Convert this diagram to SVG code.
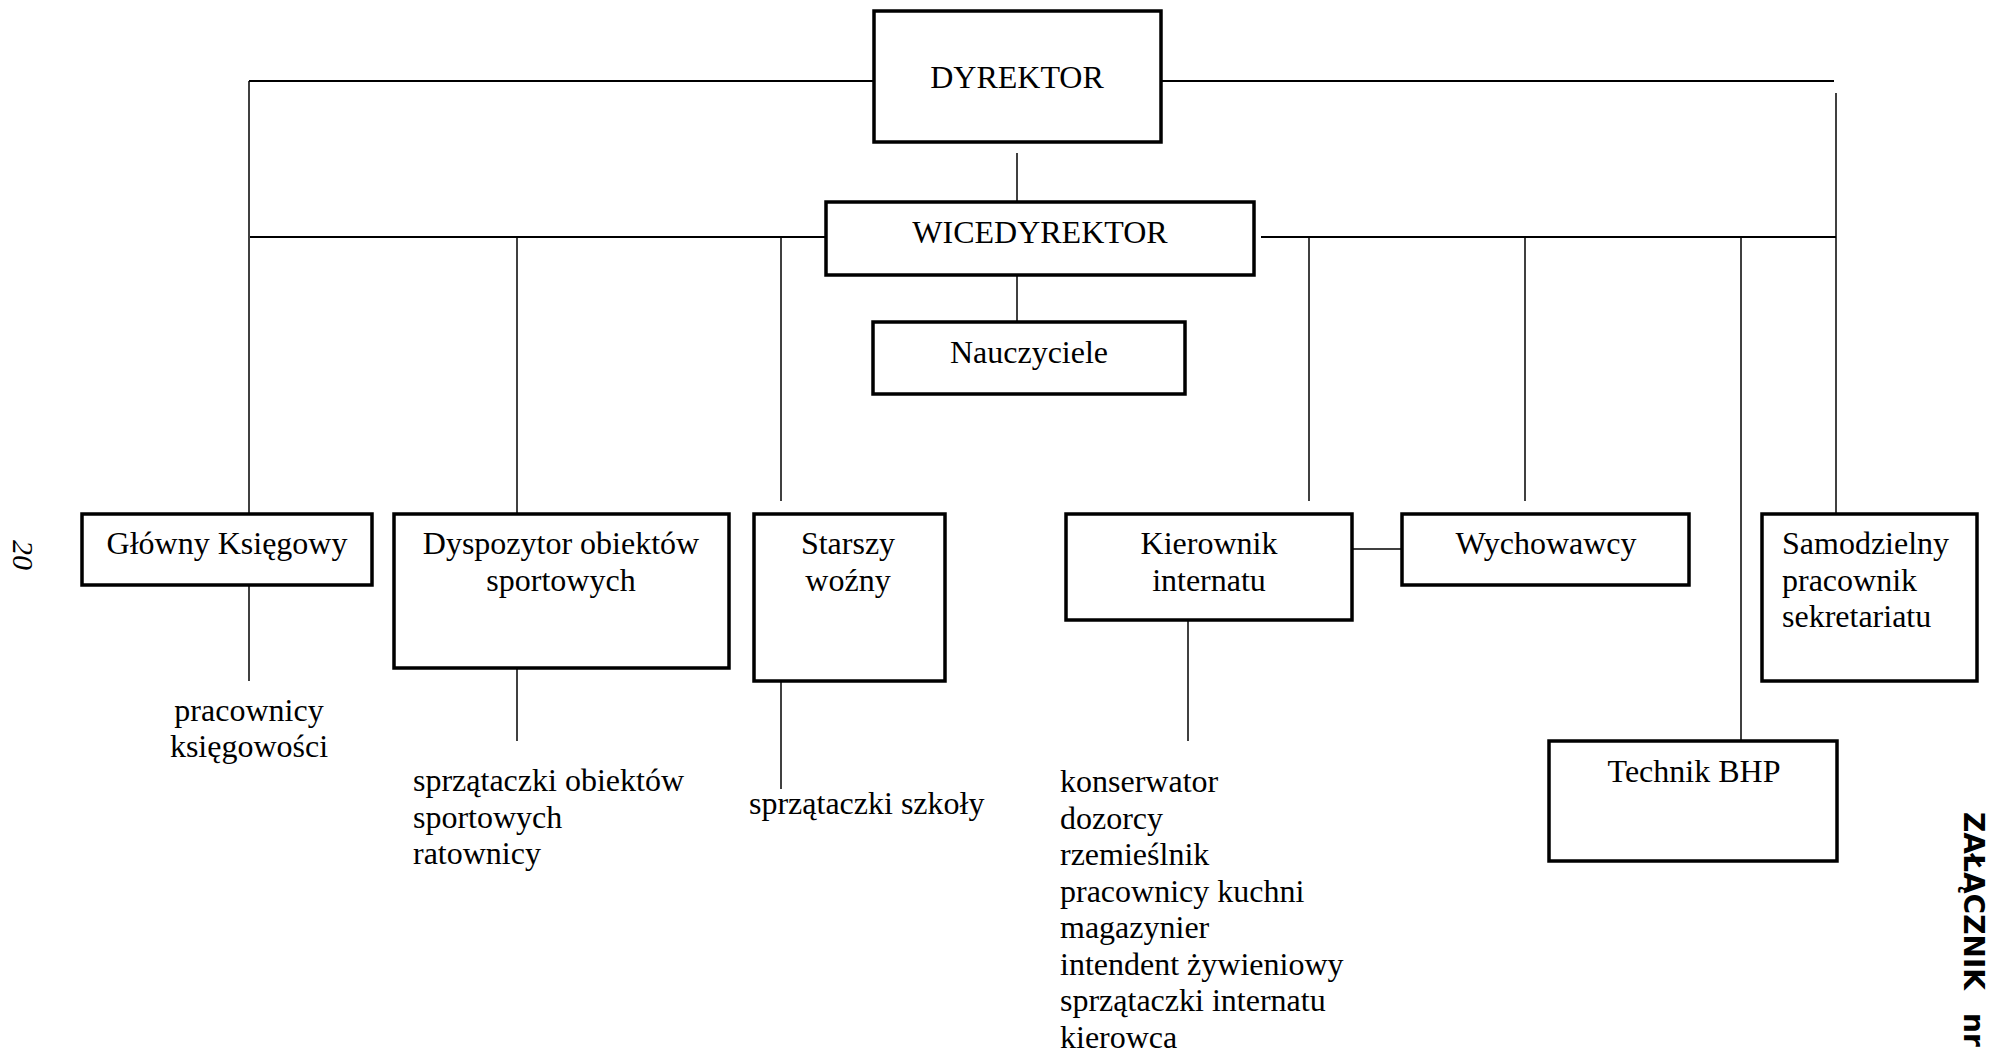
<svg xmlns="http://www.w3.org/2000/svg" width="1995" height="1058" viewBox="0 0 1995 1058">
<style>
.box{fill:#fff;stroke:#000;stroke-width:3.5}
.t{font-family:"Liberation Serif","Times New Roman",serif;font-size:32px;fill:#000}
.c{text-anchor:middle}
.ln{stroke:#000;stroke-width:1.5;fill:none}
.hl{stroke:#000;stroke-width:2.2;fill:none}
</style>
<rect width="1995" height="1058" fill="#fff"/>
<g id="connectors">
<line class="hl" x1="249" y1="81" x2="874" y2="81"/>
<line class="hl" x1="1160" y1="81" x2="1834" y2="81"/>
<line class="ln" x1="249" y1="81" x2="249" y2="513"/>
<line class="ln" x1="1836" y1="93" x2="1836" y2="526"/>
<line class="hl" x1="250" y1="237" x2="829" y2="237"/>
<line class="hl" x1="1261" y1="237" x2="1836" y2="237"/>
<line class="ln" x1="517" y1="237" x2="517" y2="526"/>
<line class="ln" x1="781" y1="237" x2="781" y2="501"/>
<line class="ln" x1="1309" y1="237" x2="1309" y2="501"/>
<line class="ln" x1="1525" y1="237" x2="1525" y2="501"/>
<line class="ln" x1="1741" y1="237" x2="1741" y2="740"/>
<line class="ln" x1="1017" y1="153" x2="1017" y2="201"/>
<line class="ln" x1="1017" y1="276" x2="1017" y2="321"/>
<line class="ln" x1="249" y1="586" x2="249" y2="681"/>
<line class="ln" x1="517" y1="669" x2="517" y2="741"/>
<line class="ln" x1="781" y1="669" x2="781" y2="789"/>
<line class="ln" x1="1188" y1="621" x2="1188" y2="741"/>
<line class="ln" x1="1353" y1="549" x2="1405" y2="549"/>
</g>
<g id="dyrektor">
<rect class="box" x="874" y="11" width="287" height="131"/>
<text class="t c" x="1017" y="88">DYREKTOR</text>
</g>
<g id="wicedyrektor">
<rect class="box" x="826" y="202" width="428" height="73"/>
<text class="t c" x="1040" y="243">WICEDYREKTOR</text>
</g>
<g id="nauczyciele">
<rect class="box" x="873" y="322" width="312" height="72"/>
<text class="t c" x="1029" y="363">Nauczyciele</text>
</g>
<g id="glowny">
<rect class="box" x="82" y="514" width="290" height="71"/>
<text class="t c" x="227" y="554">Główny Księgowy</text>
</g>
<g id="dyspozytor">
<rect class="box" x="394" y="514" width="335" height="154"/>
<text class="t c" x="561" y="554">Dyspozytor obiektów</text>
<text class="t c" x="561" y="591">sportowych</text>
</g>
<g id="starszy">
<rect class="box" x="754" y="514" width="191" height="167"/>
<text class="t c" x="848" y="554">Starszy</text>
<text class="t c" x="848" y="591">woźny</text>
</g>
<g id="kierownik">
<rect class="box" x="1066" y="514" width="286" height="106"/>
<text class="t c" x="1209" y="554">Kierownik</text>
<text class="t c" x="1209" y="591">internatu</text>
</g>
<g id="wychowawcy">
<rect class="box" x="1402" y="514" width="287" height="71"/>
<text class="t c" x="1546" y="554">Wychowawcy</text>
</g>
<g id="samodzielny">
<rect class="box" x="1762" y="514" width="215" height="167"/>
<text class="t" x="1782" y="554">Samodzielny</text>
<text class="t" x="1782" y="591">pracownik</text>
<text class="t" x="1782" y="627">sekretariatu</text>
</g>
<g id="technik">
<rect class="box" x="1549" y="741" width="288" height="120"/>
<text class="t c" x="1694" y="782">Technik BHP</text>
</g>
<g id="sub-ksiegowosc">
<text class="t c" x="249" y="721">pracownicy</text>
<text class="t c" x="249" y="757">księgowości</text>
</g>
<g id="sub-sport">
<text class="t" x="413" y="791">sprzątaczki obiektów</text>
<text class="t" x="413" y="828">sportowych</text>
<text class="t" x="413" y="864">ratownicy</text>
</g>
<g id="sub-szkola">
<text class="t" x="749" y="814">sprzątaczki szkoły</text>
</g>
<g id="sub-internat">
<text class="t" x="1060" y="792">konserwator</text>
<text class="t" x="1060" y="829">dozorcy</text>
<text class="t" x="1060" y="865">rzemieślnik</text>
<text class="t" x="1060" y="902">pracownicy kuchni</text>
<text class="t" x="1060" y="938">magazynier</text>
<text class="t" x="1060" y="975">intendent żywieniowy</text>
<text class="t" x="1060" y="1011">sprzątaczki internatu</text>
<text class="t" x="1060" y="1048">kierowca</text>
</g>
<text transform="translate(13 540) rotate(90)" font-family="Liberation Serif, serif" font-style="italic" font-size="30">20</text>
<text transform="translate(1964 812) rotate(90)" font-family="DejaVu Sans, sans-serif" font-weight="bold" font-size="28">ZAŁĄCZNIK<tspan x="201">nr</tspan></text>
</svg>
